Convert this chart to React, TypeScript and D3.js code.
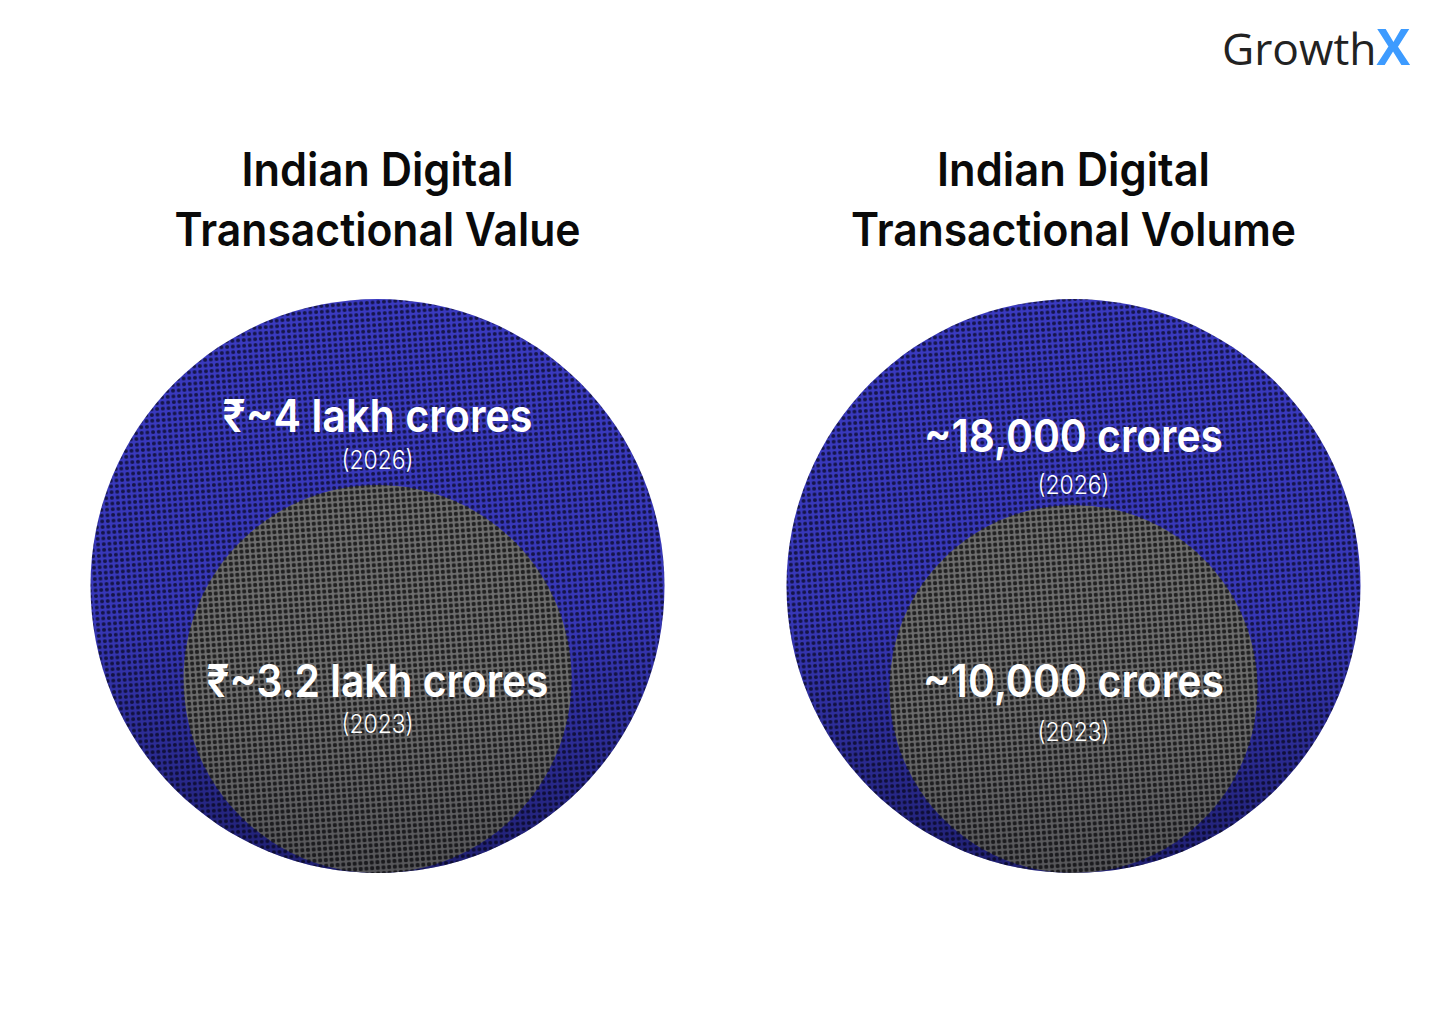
import React from "react";
import * as d3 from "d3";

const panelKeys = ["value", "volume"];
const titleLine1 = ["Indian Digital", "Indian Digital"];
const titleLine2 = ["Transactional Value", "Transactional Volume"];
const outerLabels = ["₹~4 lakh crores", "~18,000 crores"];
const outerYears = ["(2026)", "(2026)"];
const innerLabels = ["₹~3.2 lakh crores", "~10,000 crores"];
const innerYears = ["(2023)", "(2023)"];

const W = 1440;
const H = 1024;
const FONT = "Inter, 'Noto Sans', 'DejaVu Sans', sans-serif";

// layout
const outerR = 287;
const innerR = [194, 184];
const circleBottom = 873;
const titleW1 = [272, 273];
const titleW2 = [406, 445];
const outerLabW = [310, 299];
const innerLabW = [342, 301];
const outerLabY = [432, 452];
const outerYearY = [469, 494];
const innerLabY = [697, 697];
const innerYearY = [733, 741];

export default function App() {
  const x = d3.scalePoint<string>().domain(panelKeys).range([377.5, 1073.5]);
  const cyOuter = circleBottom - outerR;

  return (
    <svg width={W} height={H} style={{ display: "block", position: "absolute", left: 0, top: 0 }}>
      <defs>
        <pattern id="meshBlue" width={5.7} height={5.7} patternUnits="userSpaceOnUse" patternTransform="rotate(-4)">
          <rect width={5.7} height={5.7} fill="#3a3ac0" />
          <circle cx={2.85} cy={2.85} r={2.0} fill="#15154a" />
        </pattern>
        <pattern id="meshGray" width={5.7} height={5.7} patternUnits="userSpaceOnUse" patternTransform="rotate(-4)">
          <rect width={5.7} height={5.7} fill="#6e6e6e" />
          <circle cx={2.85} cy={2.85} r={2.15} fill="#222222" />
        </pattern>
        <linearGradient id="shade" x1="0" y1="0" x2="0" y2="1">
          <stop offset="0" stopColor="#000010" stopOpacity={0} />
          <stop offset="0.55" stopColor="#000010" stopOpacity={0.05} />
          <stop offset="1" stopColor="#000010" stopOpacity={0.45} />
        </linearGradient>
      </defs>
      <rect width={W} height={H} fill="#ffffff" />

      {/* logo */}
      <text x={1222} y={65} fontFamily="'Open Sans', sans-serif" fontSize={44} fontWeight={400} fill="#222222" textLength={188} lengthAdjust="spacingAndGlyphs">
        Growth
        <tspan fill="#3d9bff" fontWeight={700} fontSize={50}>X</tspan>
      </text>

      {panelKeys.map((k, i) => {
        const cx = x(k) as number;
        const cyInner = circleBottom - innerR[i];
        return (
          <g key={k}>
            <text x={cx} y={186} textAnchor="middle" fontFamily={FONT} fontSize={46} fontWeight={600} fill="#0a0a0a" textLength={titleW1[i]} lengthAdjust="spacingAndGlyphs">
              {titleLine1[i]}
            </text>
            <text x={cx} y={246} textAnchor="middle" fontFamily={FONT} fontSize={46} fontWeight={600} fill="#0a0a0a" textLength={titleW2[i]} lengthAdjust="spacingAndGlyphs">
              {titleLine2[i]}
            </text>

            <circle cx={cx} cy={cyOuter} r={outerR} fill="url(#meshBlue)" />
            <circle cx={cx} cy={cyOuter} r={outerR} fill="url(#shade)" />
            <circle cx={cx} cy={cyInner} r={innerR[i]} fill="url(#meshGray)" />
            <circle cx={cx} cy={cyInner} r={innerR[i]} fill="url(#shade)" opacity={0.5} />

            <text x={cx} y={outerLabY[i]} textAnchor="middle" fontFamily={FONT} fontSize={45} fontWeight={600} fill="#fff" textLength={outerLabW[i]} lengthAdjust="spacingAndGlyphs">
              {outerLabels[i]}
            </text>
            <text x={cx} y={outerYearY[i]} textAnchor="middle" fontFamily={FONT} fontSize={26} fontWeight={300} fill="#fff" textLength={72} lengthAdjust="spacingAndGlyphs">
              {outerYears[i]}
            </text>
            <text x={cx} y={innerLabY[i]} textAnchor="middle" fontFamily={FONT} fontSize={45} fontWeight={600} fill="#fff" textLength={innerLabW[i]} lengthAdjust="spacingAndGlyphs">
              {innerLabels[i]}
            </text>
            <text x={cx} y={innerYearY[i]} textAnchor="middle" fontFamily={FONT} fontSize={26} fontWeight={300} fill="#fff" textLength={72} lengthAdjust="spacingAndGlyphs">
              {innerYears[i]}
            </text>
          </g>
        );
      })}
    </svg>
  );
}
